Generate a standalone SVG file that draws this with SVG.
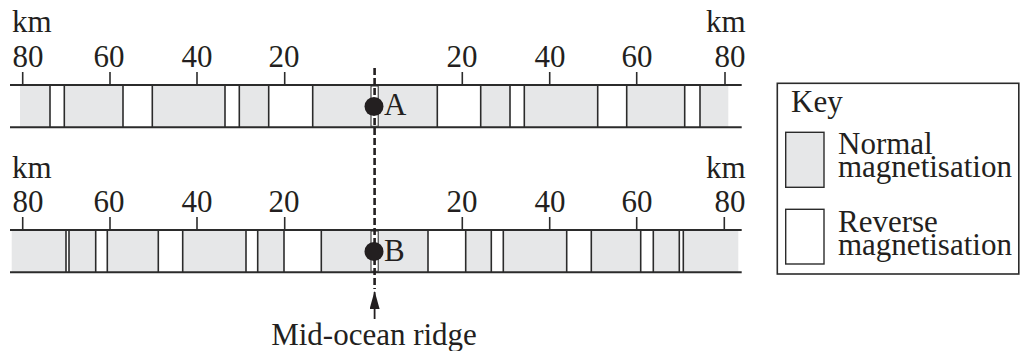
<svg xmlns="http://www.w3.org/2000/svg" width="1021" height="351" viewBox="0 0 1021 351">
<style>
text{font-family:"Liberation Serif","Times New Roman",serif;fill:#231f20;font-size:31px}
.g{fill:#e6e7e8}
.w{fill:#ffffff}
.b{stroke:#2b2b2b;stroke-width:2;fill:none}
.t{stroke:#2b2b2b;stroke-width:1.6}
.band{fill:#fff;stroke:#2b2b2b;stroke-width:1}
</style>
<defs>
<marker id="arr" viewBox="0 0 18 10" refX="17" refY="5" markerWidth="18" markerHeight="10" markerUnits="userSpaceOnUse" orient="auto">
<path d="M0,0 L18,5 L0,10 Z" fill="#231f20"/>
</marker>
</defs>

<g id="top-strip">
<rect class="g" x="20" y="85" width="708.3" height="42.3"/>
<g class="w">
<rect x="50" y="85" width="14.3" height="42.3"/>
<rect x="123" y="85" width="29.3" height="42.3"/>
<rect x="225" y="85" width="14.3" height="42.3"/>
<rect x="268.7" y="85" width="44" height="42.3"/>
<rect x="437.3" y="85" width="43.4" height="42.3"/>
<rect x="510" y="85" width="14.3" height="42.3"/>
<rect x="597.7" y="85" width="29" height="42.3"/>
<rect x="684.7" y="85" width="15.3" height="42.3"/>
</g>
<g class="t">
<line x1="50" y1="85" x2="50" y2="127.3"/><line x1="64.3" y1="85" x2="64.3" y2="127.3"/>
<line x1="123" y1="85" x2="123" y2="127.3"/><line x1="152.3" y1="85" x2="152.3" y2="127.3"/>
<line x1="225" y1="85" x2="225" y2="127.3"/><line x1="239.3" y1="85" x2="239.3" y2="127.3"/>
<line x1="268.7" y1="85" x2="268.7" y2="127.3"/><line x1="312.7" y1="85" x2="312.7" y2="127.3"/>
<line x1="437.3" y1="85" x2="437.3" y2="127.3"/><line x1="480.7" y1="85" x2="480.7" y2="127.3"/>
<line x1="510" y1="85" x2="510" y2="127.3"/><line x1="524.3" y1="85" x2="524.3" y2="127.3"/>
<line x1="597.7" y1="85" x2="597.7" y2="127.3"/><line x1="626.7" y1="85" x2="626.7" y2="127.3"/>
<line x1="684.7" y1="85" x2="684.7" y2="127.3"/><line x1="700" y1="85" x2="700" y2="127.3"/>
</g>
<line class="b" x1="10" y1="85" x2="741.7" y2="85"/>
<line class="b" x1="10" y1="127.3" x2="741.7" y2="127.3"/>
<g class="t">
<line x1="22.7" y1="72" x2="22.7" y2="85"/><line x1="110" y1="72" x2="110" y2="85"/>
<line x1="197" y1="72" x2="197" y2="85"/><line x1="284.7" y1="72" x2="284.7" y2="85"/>
<line x1="462.3" y1="72" x2="462.3" y2="85"/><line x1="549.7" y1="72" x2="549.7" y2="85"/>
<line x1="636.7" y1="72" x2="636.7" y2="85"/><line x1="725" y1="72" x2="725" y2="85"/>
</g>
<text x="12" y="31.7">km</text>
<text x="706" y="31.7">km</text>
<text x="28" y="66.7" text-anchor="middle">80</text>
<text x="109" y="66.7" text-anchor="middle">60</text>
<text x="197" y="66.7" text-anchor="middle">40</text>
<text x="284" y="66.7" text-anchor="middle">20</text>
<text x="462" y="66.7" text-anchor="middle">20</text>
<text x="550" y="66.7" text-anchor="middle">40</text>
<text x="637" y="66.7" text-anchor="middle">60</text>
<text x="730" y="66.7" text-anchor="middle">80</text>
</g>

<g id="bottom-strip">
<rect class="g" x="11.7" y="230" width="726.6" height="42.3"/>
<g class="w">
<rect x="66" y="230" width="3" height="42.3"/>
<rect x="95.7" y="230" width="11.6" height="42.3"/>
<rect x="158.3" y="230" width="24.4" height="42.3"/>
<rect x="246" y="230" width="11.7" height="42.3"/>
<rect x="284" y="230" width="37.3" height="42.3"/>
<rect x="428" y="230" width="37.7" height="42.3"/>
<rect x="491.3" y="230" width="12" height="42.3"/>
<rect x="566.7" y="230" width="24.6" height="42.3"/>
<rect x="640.7" y="230" width="12.6" height="42.3"/>
<rect x="679.3" y="230" width="4" height="42.3"/>
</g>
<g class="t">
<line x1="66" y1="230" x2="66" y2="272.3"/><line x1="69" y1="230" x2="69" y2="272.3"/>
<line x1="95.7" y1="230" x2="95.7" y2="272.3"/><line x1="107.3" y1="230" x2="107.3" y2="272.3"/>
<line x1="158.3" y1="230" x2="158.3" y2="272.3"/><line x1="182.7" y1="230" x2="182.7" y2="272.3"/>
<line x1="246" y1="230" x2="246" y2="272.3"/><line x1="257.7" y1="230" x2="257.7" y2="272.3"/>
<line x1="284" y1="230" x2="284" y2="272.3"/><line x1="321.3" y1="230" x2="321.3" y2="272.3"/>
<line x1="428" y1="230" x2="428" y2="272.3"/><line x1="465.7" y1="230" x2="465.7" y2="272.3"/>
<line x1="491.3" y1="230" x2="491.3" y2="272.3"/><line x1="503.3" y1="230" x2="503.3" y2="272.3"/>
<line x1="566.7" y1="230" x2="566.7" y2="272.3"/><line x1="591.3" y1="230" x2="591.3" y2="272.3"/>
<line x1="640.7" y1="230" x2="640.7" y2="272.3"/><line x1="653.3" y1="230" x2="653.3" y2="272.3"/>
<line x1="679.3" y1="230" x2="679.3" y2="272.3"/><line x1="683.3" y1="230" x2="683.3" y2="272.3"/>
</g>
<line class="b" x1="10" y1="230" x2="741.7" y2="230"/>
<line class="b" x1="10" y1="272.3" x2="741.7" y2="272.3"/>
<g class="t">
<line x1="22.7" y1="217" x2="22.7" y2="230"/><line x1="110" y1="217" x2="110" y2="230"/>
<line x1="197" y1="217" x2="197" y2="230"/><line x1="284.7" y1="217" x2="284.7" y2="230"/>
<line x1="462.3" y1="217" x2="462.3" y2="230"/><line x1="549.7" y1="217" x2="549.7" y2="230"/>
<line x1="636.7" y1="217" x2="636.7" y2="230"/><line x1="724.3" y1="217" x2="724.3" y2="230"/>
</g>
<text x="12" y="178">km</text>
<text x="706" y="178">km</text>
<text x="28" y="211.7" text-anchor="middle">80</text>
<text x="109" y="211.7" text-anchor="middle">60</text>
<text x="197" y="211.7" text-anchor="middle">40</text>
<text x="284" y="211.7" text-anchor="middle">20</text>
<text x="462" y="211.7" text-anchor="middle">20</text>
<text x="550" y="211.7" text-anchor="middle">40</text>
<text x="637" y="211.7" text-anchor="middle">60</text>
<text x="730" y="211.7" text-anchor="middle">80</text>
</g>

<g id="connectors">
<rect class="band" x="371" y="86" width="7.2" height="40.3"/>
<rect class="band" x="371" y="231" width="7.2" height="40.3"/>
<line x1="374.6" y1="68" x2="374.6" y2="289" stroke="#231f20" stroke-width="2.6" stroke-dasharray="7 3"/>
<line x1="374.6" y1="319" x2="374.6" y2="292" stroke="#231f20" stroke-width="1.8" marker-end="url(#arr)"/>
</g>

<g id="point-A">
<circle cx="374" cy="106.5" r="9.5" fill="#231f20"/>
<text x="384" y="115">A</text>
</g>
<g id="point-B">
<circle cx="374" cy="251.5" r="9.5" fill="#231f20"/>
<text x="384" y="261">B</text>
</g>

<g id="ridge-label">
<text x="374" y="345" text-anchor="middle">Mid-ocean ridge</text>
</g>

<g id="key">
<rect x="777.3" y="83.3" width="241.5" height="190.7" fill="#fff" stroke="#2b2b2b" stroke-width="1.6"/>
<text x="791" y="112">Key</text>
<rect x="785.7" y="132.3" width="38.3" height="55" class="g" stroke="#2b2b2b" stroke-width="1.4"/>
<text x="838" y="154">Normal</text>
<text x="838" y="177">magnetisation</text>
<rect x="785.7" y="209.3" width="38.3" height="54.7" fill="#fff" stroke="#2b2b2b" stroke-width="1.4"/>
<text x="838" y="232">Reverse</text>
<text x="838" y="255">magnetisation</text>
</g>
</svg>
